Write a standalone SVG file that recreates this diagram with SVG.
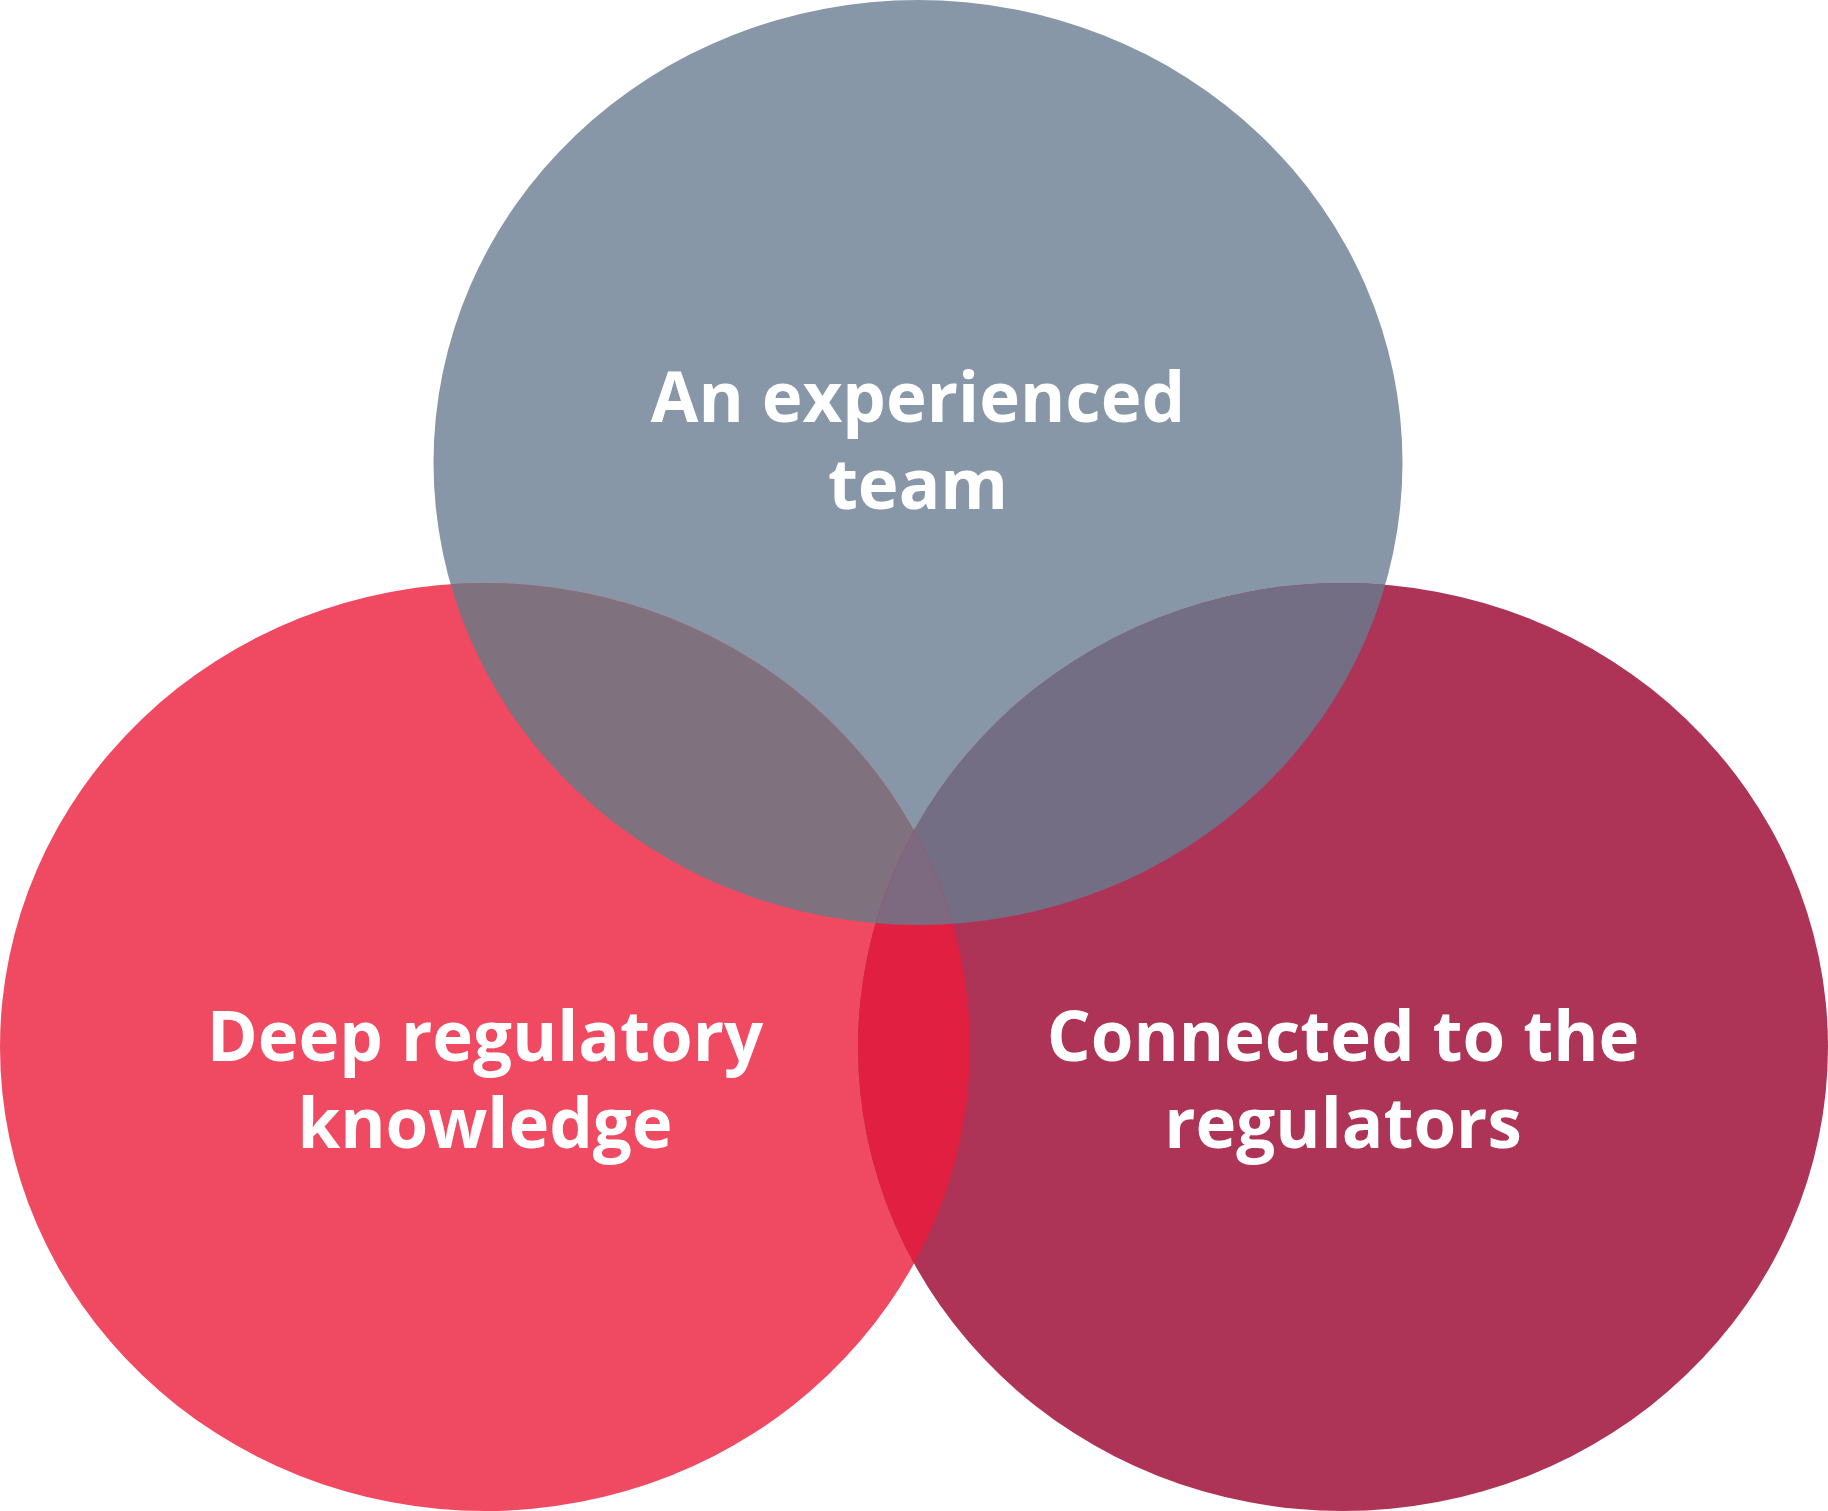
<svg xmlns="http://www.w3.org/2000/svg" width="1828" height="1511" viewBox="0 0 1828 1511">
<style>
.lbl{font-family:"Open Sans","Liberation Sans",sans-serif;font-weight:700;font-size:69px;fill:#ffffff;text-anchor:middle}
</style>
<defs>
<clipPath id="cTop"><ellipse cx="918" cy="462.5" rx="484.5" ry="462.5"/></clipPath>
<clipPath id="cLeft"><ellipse cx="485" cy="1047" rx="485" ry="464"/></clipPath>
<clipPath id="cRight"><ellipse cx="1343" cy="1047" rx="485" ry="464"/></clipPath>
</defs>
<rect width="1828" height="1511" fill="#ffffff"/>
<g id="shapes">
<ellipse id="top" cx="918" cy="462.5" rx="484.5" ry="462.5" fill="#8797a8"/>
<ellipse id="left" cx="485" cy="1047" rx="485" ry="464" fill="#f04a63"/>
<ellipse id="right" cx="1343" cy="1047" rx="485" ry="464" fill="#ae3457"/>
<g clip-path="url(#cTop)"><ellipse cx="485" cy="1047" rx="485" ry="464" fill="#80717f"/></g>
<g clip-path="url(#cTop)"><ellipse cx="1343" cy="1047" rx="485" ry="464" fill="#746e84"/></g>
<g clip-path="url(#cLeft)"><ellipse cx="1343" cy="1047" rx="485" ry="464" fill="#e01f41"/></g>
<g clip-path="url(#cTop)"><g clip-path="url(#cLeft)"><ellipse cx="1343" cy="1047" rx="485" ry="464" fill="#7e6a80"/></g></g>
</g>
<g id="node-team">
<text class="lbl" x="918" y="422">An experienced</text>
<text class="lbl" x="918" y="509">team</text>
</g>
<g id="node-knowledge">
<text class="lbl" x="485" y="1061">Deep regulatory</text>
<text class="lbl" x="485" y="1148">knowledge</text>
</g>
<g id="node-connected">
<text class="lbl" x="1343" y="1061">Connected to the</text>
<text class="lbl" x="1343" y="1148">regulators</text>
</g>
<g id="connectors"/>
</svg>
